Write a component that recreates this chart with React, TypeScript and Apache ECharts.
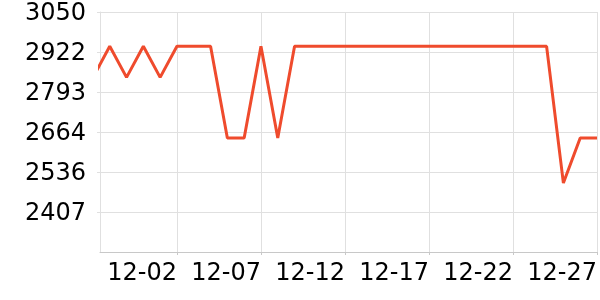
import React, { useEffect, useRef } from "react";
import * as echarts from "echarts";

const dates = [
  "11-27", "11-28", "11-29", "11-30", "12-01", "12-02", "12-03", "12-04", "12-05", "12-06",
  "12-07", "12-08", "12-09", "12-10", "12-11", "12-12", "12-13", "12-14", "12-15", "12-16",
  "12-17", "12-18", "12-19", "12-20", "12-21", "12-22", "12-23", "12-24", "12-25", "12-26",
  "12-27",
];
const prices = [
  2840, 2940, 2840, 2940, 2840, 2940, 2940, 2940, 2645, 2645,
  2940, 2645, 2940, 2940, 2940, 2940, 2940, 2940, 2940, 2940,
  2940, 2940, 2940, 2940, 2940, 2940, 2940, 2940, 2500, 2645,
  2645,
];
const yMax = 3050.4;
const yStep = 128.7;
const xStart = 0.42;

export default function App() {
  const ref = useRef<HTMLDivElement>(null);
  useEffect(() => {
    if (!ref.current) return;
    const chart = echarts.init(ref.current, undefined, { renderer: "svg" });
    const seriesData = prices.map((v, i) => [i, v]);
    chart.setOption({
      animation: false,
      grid: { left: 100, right: 0, top: 10, bottom: 48, containLabel: false },
      xAxis: {
        type: "value",
        min: xStart,
        max: dates.length - 1,
        minInterval: 5,
        maxInterval: 5,
        axisLine: { show: true, lineStyle: { color: "#c8c8c8", width: 1 } },
        axisTick: { show: true, length: 3, lineStyle: { color: "#c8c8c8" } },
        splitLine: { show: true, lineStyle: { color: "#e0e0e0", width: 1 } },
        axisLabel: {
          showMinLabel: false,
          showMaxLabel: true,
          align: "right",
          margin: 8,
          color: "#000",
          fontSize: 24,
          fontFamily: "DejaVu Sans",
          formatter: (v: number) => dates[Math.round(v)] ?? "",
        },
      },
      yAxis: {
        type: "value",
        min: yMax - 6 * yStep,
        max: yMax,
        interval: yStep,
        axisLine: { show: true, lineStyle: { color: "#e0e0e0", width: 1 } },
        axisTick: { show: true, length: 3, lineStyle: { color: "#e0e0e0" } },
        splitLine: { show: true, lineStyle: { color: "#e0e0e0", width: 1 } },
        axisLabel: {
          showMinLabel: false,
          margin: 14,
          color: "#000",
          fontSize: 24,
          fontFamily: "DejaVu Sans",
          formatter: (v: number) => String(Math.round(v)),
        },
      },
      series: [
        {
          type: "line",
          data: seriesData,
          showSymbol: false,
          clip: true,
          lineStyle: { color: "#ef4b2d", width: 3 },
          itemStyle: { color: "#ef4b2d" },
        },
      ],
    });
    return () => chart.dispose();
  }, []);
  return (
    <div
      ref={ref}
      style={{ position: "fixed", left: 0, top: 0, width: 600, height: 300 }}
    />
  );
}
